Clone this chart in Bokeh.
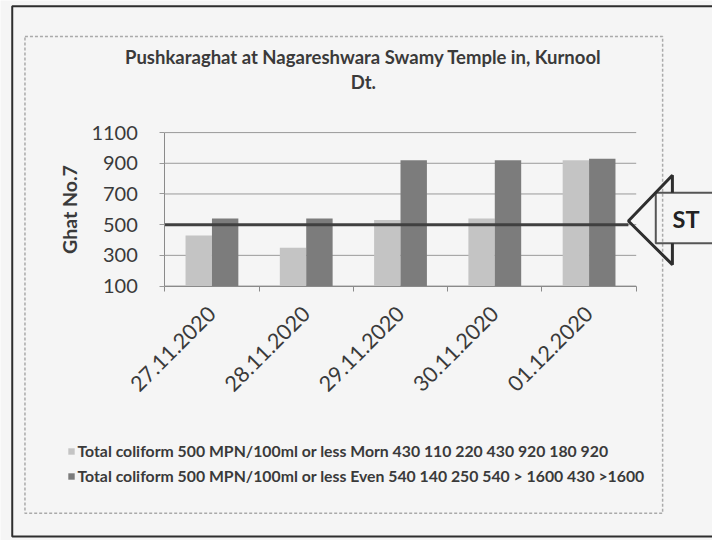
from math import pi
from bokeh.plotting import figure
from bokeh.models import (Range1d, FixedTicker, Label, BoxAnnotation,
                          PolyAnnotation, Legend, LegendItem, ColumnDataSource)
from bokeh.embed import file_html
from bokeh.resources import INLINE

# ---- data ----
title_lines = ["Pushkaraghat at Nagareshwara Swamy Temple in, Kurnool", "Dt."]
y_axis_title = "Ghat No.7"
dates = ["27.11.2020", "28.11.2020", "29.11.2020", "30.11.2020", "01.12.2020"]
morn = [430, 350, 530, 540, 920]
even = [540, 540, 920, 920, 930]
series_names = [
    "Total coliform 500 MPN/100ml or less Morn 430 110 220 430 920 180 920",
    "Total coliform 500 MPN/100ml or less Even 540 140 250 540 > 1600 430 >1600",
]
y_ticks = [100, 300, 500, 700, 900, 1100]
st_limit = 500
st_label = "ST"

# ---- layout (reference pixel geometry, scaled to the figure) ----
W, H = 712, 540
SX, SY = W / 728, H / 556
def fx(v): return v * SX
def fy(v): return v * SY

PL, PR, PT, PB = fx(168), fx(650), fy(136), fy(294)   # plot area in canvas px
n = len(dates)
ux = (PR - PL) / n
uy = (PB - PT) / (y_ticks[-1] - y_ticks[0])
x_start = -PL / ux
x_end = (W - PL) / ux
y_start = y_ticks[0] - (H - PB) / uy
y_end = y_ticks[-1] + PT / uy
def px2x(px): return (px - PL) / ux

BG = "#f5f5f5"
MORN_C = "#c4c4c4"
EVEN_C = "#7c7c7c"
TXT = "#3a3a3a"
FONT = "Lato"

p = figure(width=W, height=H, title=None,
           x_range=Range1d(x_start, x_end), y_range=Range1d(y_start, y_end),
           output_backend="svg", toolbar_location=None, min_border=0)
p.background_fill_color = BG
p.border_fill_color = BG
p.outline_line_color = None
p.grid.visible = False

def canvas_box(**kw):
    return BoxAnnotation(left_units="canvas", right_units="canvas",
                         top_units="canvas", bottom_units="canvas", **kw)

# chart box border and page border
p.add_layout(canvas_box(left=fx(25), right=fx(677), top=fy(37), bottom=fy(528),
                        fill_alpha=0, line_color="#aaaaaa", line_alpha=1, line_width=1.5,
                        line_dash="3 2", level="underlay"))
p.add_layout(canvas_box(left=fx(12), right=W + 40, top=fy(6), bottom=fy(552),
                        fill_alpha=0, line_color="#2e2e2e", line_alpha=1, line_width=2,
                        level="underlay"))

# gridlines across the plot area
gsrc = ColumnDataSource(dict(y=y_ticks))
p.segment(x0=0, x1=n, y0="y", y1="y", source=gsrc, line_color="#9a9a9a", line_width=1)

centers = [i + 0.5 for i in range(n)]
bw = 0.28
src = ColumnDataSource(dict(xm=[c - bw / 2 for c in centers], xe=[c + bw / 2 for c in centers],
                            morn=morn, even=even))
r1 = p.vbar(x="xm", top="morn", bottom=y_ticks[0], width=bw, source=src,
            fill_color=MORN_C, line_color=None)
r2 = p.vbar(x="xe", top="even", bottom=y_ticks[0], width=bw, source=src,
            fill_color=EVEN_C, line_color=None)

# y axis
ya = p.yaxis[0]
ya.fixed_location = 0
ya.bounds = (y_ticks[0], y_ticks[-1])
ya.ticker = FixedTicker(ticks=y_ticks)
ya.axis_line_color = "#8a8a8a"
ya.major_tick_line_color = "#9a9a9a"
ya.major_tick_out = 5
ya.major_tick_in = 0
ya.minor_tick_line_color = None
ya.major_label_standoff = 22
ya.major_label_text_font = FONT
ya.major_label_text_font_size = "20px"
ya.major_label_text_color = TXT
ya.axis_label = y_axis_title
ya.axis_label_text_font = FONT
ya.axis_label_text_font_style = "bold"
ya.axis_label_text_font_size = "19.5px"
ya.axis_label_text_color = TXT
ya.axis_label_standoff = 7

# x axis
xa = p.xaxis[0]
xa.fixed_location = y_ticks[0]
xa.bounds = (0, n)
xa.ticker = FixedTicker(ticks=centers, minor_ticks=list(range(n + 1)))
xa.major_label_overrides = {float(c): d for c, d in zip(centers, dates)}
xa.major_label_orientation = pi / 4
xa.axis_line_color = "#8a8a8a"
xa.major_tick_line_color = None
xa.major_tick_out = 0
xa.major_tick_in = 0
xa.minor_tick_line_color = "#8a8a8a"
xa.minor_tick_out = 5
xa.minor_tick_in = 0
xa.major_label_standoff = 19
xa.major_label_text_align = "right"
xa.major_label_text_baseline = "middle"
xa.major_label_text_font = FONT
xa.major_label_text_font_size = "21.5px"
xa.major_label_text_color = TXT

# standard (ST) line up to the arrow tip
tip_x, tip_y = fx(642), fy(227)
p.line(x=[0, px2x(tip_x)], y=[st_limit, st_limit], line_color="#404040", line_width=3)

# legend
legend = Legend(items=[LegendItem(label=series_names[0], renderers=[r1]),
                       LegendItem(label=series_names[1], renderers=[r2])],
                location=(fx(68), H - fy(500)), orientation="vertical", padding=0, margin=0,
                spacing=5, glyph_width=8, glyph_height=8, label_standoff=3, label_height=20,
                border_line_color=None, background_fill_alpha=0,
                label_text_font=FONT, label_text_font_style="bold",
                label_text_font_size="15.8px", label_text_color=TXT)
p.add_layout(legend, "center")

# title
for txt, ty in zip(title_lines, [58, 84]):
    p.add_layout(Label(x=fx(371), y=fy(ty), x_units="canvas", y_units="canvas", text=txt,
                       text_align="center", text_baseline="middle",
                       text_font=FONT, text_font_style="bold", text_font_size="18.5px",
                       text_color=TXT))

# ST arrow callout
p.add_layout(canvas_box(left=fx(670), right=W + 40, top=fy(198), bottom=fy(250),
                        fill_color=BG, fill_alpha=0, line_color="#555555", line_alpha=1,
                        line_width=2))
hx, ht, hb, st_, sb = fx(687), fy(180), fy(272), fy(198), fy(250)
p.add_layout(PolyAnnotation(xs=[tip_x, hx, hx, hx, tip_x, hx, hx, hx],
                            ys=[tip_y, ht, st_, ht, tip_y, hb, sb, hb],
                            xs_units="canvas", ys_units="canvas",
                            fill_alpha=0, line_color="#2e2e2e", line_alpha=1, line_width=3))
p.add_layout(Label(x=fx(701), y=fy(225), x_units="canvas", y_units="canvas", text=st_label,
                   text_align="center", text_baseline="middle",
                   text_font=FONT, text_font_style="bold", text_font_size="23.5px",
                   text_color="#222222"))

open("out.html", "w").write(file_html(p, INLINE))
